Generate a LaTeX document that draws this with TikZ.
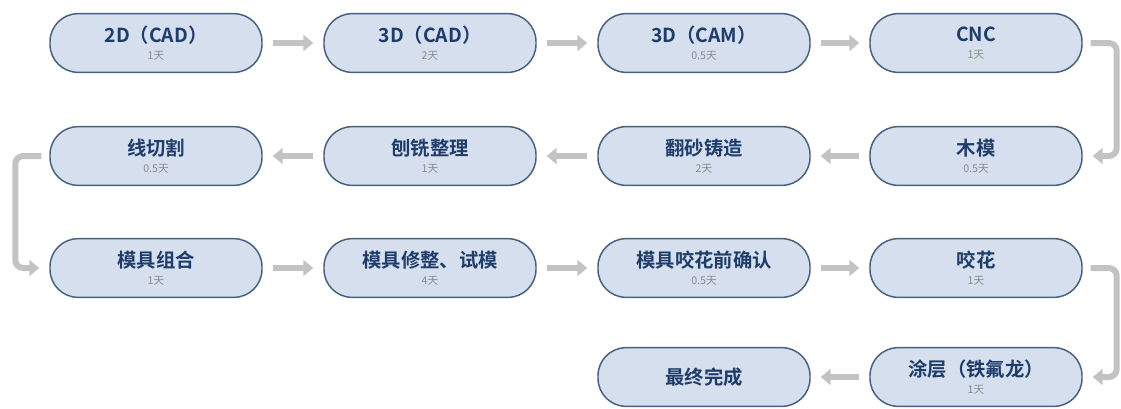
\documentclass[tikz,border=0pt]{standalone}
\usepackage{fontspec}
\setmainfont{Noto Sans CJK SC}[BoldFont={Noto Sans CJK SC Bold}]
\usetikzlibrary{arrows.meta,calc}
\definecolor{boxfill}{HTML}{D5DFEE}
\definecolor{boxline}{HTML}{46617F}
\definecolor{titleblue}{HTML}{1F3D6B}
\definecolor{subgray}{HTML}{8A8A8A}
\definecolor{arrowgray}{HTML}{C3C3C3}
\newcommand\ttl[2]{{\fontsize{14.5}{16}\selectfont\bfseries\color{titleblue}#1}\\[1pt]{\fontsize{8}{9}\selectfont\color{subgray}#2}}
\tikzset{
  proc/.style={draw=boxline, line width=1.1pt, fill=boxfill, rounded corners=21pt,
    minimum width=159pt, minimum height=44pt, align=center, inner sep=0pt},
  flow/.style={draw=arrowgray, line width=4.5pt, -{Triangle[length=7.5pt,width=12pt]}},
}
\begin{document}
\begin{tikzpicture}[x=0.75pt,y=-0.75pt]
\useasboundingbox (0,0) rectangle (1121,408);
% row 1
\node[proc] (a1) at (156,43) {\ttl{2D（CAD）}{1天}};
\node[proc] (a2) at (430,43) {\ttl{3D（CAD）}{2天}};
\node[proc] (a3) at (704,43) {\ttl{3D（CAM）}{0.5天}};
\node[proc] (a4) at (976,43) {\ttl{CNC}{1天}};
% row 2
\node[proc] (b1) at (156,156) {\ttl{线切割}{0.5天}};
\node[proc] (b2) at (430,156) {\ttl{刨铣整理}{1天}};
\node[proc] (b3) at (704,156) {\ttl{翻砂铸造}{2天}};
\node[proc] (b4) at (976,156) {\ttl{木模}{0.5天}};
% row 3
\node[proc] (c1) at (156,268) {\ttl{模具组合}{1天}};
\node[proc] (c2) at (430,268) {\ttl{模具修整、试模}{4天}};
\node[proc] (c3) at (704,268) {\ttl{模具咬花前确认}{0.5天}};
\node[proc] (c4) at (976,268) {\ttl{咬花}{1天}};
% row 4
\node[proc] (d3) at (704,377) {{\fontsize{14.5}{16}\selectfont\bfseries\color{titleblue}最终完成}};
\node[proc] (d4) at (976,377) {\ttl{涂层（铁氟龙）}{1天}};
% arrows
\draw[flow] ($(a1.east)+(10,0)$) -- ($(a2.west)+(-10,0)$);
\draw[flow] ($(a2.east)+(10,0)$) -- ($(a3.west)+(-10,0)$);
\draw[flow] ($(a3.east)+(10,0)$) -- ($(a4.west)+(-10,0)$);
\draw[flow, rounded corners=6pt] ($(a4.east)+(8,0)$) -- ($(a4.east)+(34,0)$) |- ($(b4.east)+(10,0)$);
\draw[flow] ($(b4.west)+(-10,0)$) -- ($(b3.east)+(10,0)$);
\draw[flow] ($(b3.west)+(-10,0)$) -- ($(b2.east)+(10,0)$);
\draw[flow] ($(b2.west)+(-10,0)$) -- ($(b1.east)+(10,0)$);
\draw[flow, rounded corners=6pt] ($(b1.west)+(-8,0)$) -- ($(b1.west)+(-34,0)$) |- ($(c1.west)+(-10,0)$);
\draw[flow] ($(c1.east)+(10,0)$) -- ($(c2.west)+(-10,0)$);
\draw[flow] ($(c2.east)+(10,0)$) -- ($(c3.west)+(-10,0)$);
\draw[flow] ($(c3.east)+(10,0)$) -- ($(c4.west)+(-10,0)$);
\draw[flow, rounded corners=6pt] ($(c4.east)+(8,0)$) -- ($(c4.east)+(34,0)$) |- ($(d4.east)+(10,0)$);
\draw[flow] ($(d4.west)+(-10,0)$) -- ($(d3.east)+(10,0)$);
\end{tikzpicture}
\end{document}
